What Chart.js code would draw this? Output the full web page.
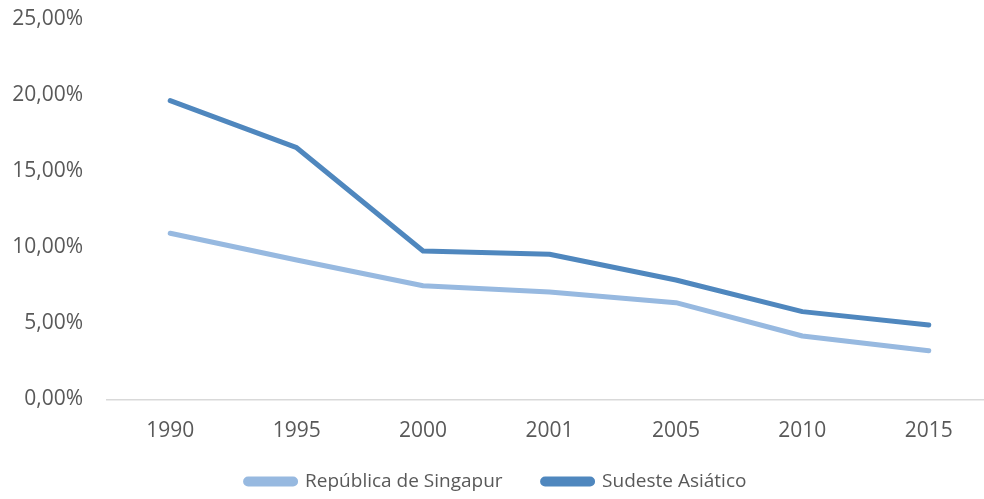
<!DOCTYPE html>
<html>
<head>
<meta charset="utf-8">
<script src="https://cdn.jsdelivr.net/npm/chart.js@4.4.1/dist/chart.umd.min.js"></script>
<style>
  html, body { margin: 0; padding: 0; background: #fff; overflow: hidden; }
  #wrap { width: 984px; height: 499px; overflow: hidden; }
  #box { width: 992px; height: 499px; position: relative; }
</style>
</head>
<body>
<div id="wrap"><div id="box"><canvas id="chart"></canvas></div></div>
<script>
// valores (% da população)
const anos = ['1990', '1995', '2000', '2001', '2005', '2010', '2015'];
const singapur = [10.91, 9.15, 7.46, 7.05, 6.35, 4.16, 3.19];
const sudeste = [19.62, 16.53, 9.74, 9.53, 7.84, 5.76, 4.88];
const serieNomes = ['República de Singapur', 'Sudeste Asiático'];
const yTicks = [0, 5, 10, 15, 20, 25];

const FONT = '"Open Sans", sans-serif';
const TXT = '#595959';

function fmtPct(v) {
  return v.toFixed(2).replace('.', ',') + '%';
}

// a área dos rótulos do eixo x fica sob a legenda; abre espaço para não cortar
const xLabelRoom = {
  id: 'xLabelRoom',
  afterLayout(chart) {
    chart.scales.x.bottom = chart.height;
  },
};

new Chart(document.getElementById('chart').getContext('2d'), {
  type: 'line',
  data: {
    labels: anos,
    datasets: [
      { label: serieNomes[0], data: singapur, borderColor: '#97b9e0', backgroundColor: '#97b9e0' },
      { label: serieNomes[1], data: sudeste, borderColor: '#4f87be', backgroundColor: '#4f87be' },
    ],
  },
  plugins: [xLabelRoom],
  options: {
    responsive: true,
    maintainAspectRatio: false,
    animation: false,
    layout: { padding: { top: 18.8, right: 0, bottom: 0, left: 0 } },
    elements: {
      line: { borderWidth: 5, tension: 0, borderCapStyle: 'round', borderJoinStyle: 'round' },
      point: { radius: 0, hoverRadius: 0 },
    },
    plugins: {
      tooltip: { enabled: false },
      legend: {
        position: 'bottom',
        maxHeight: 67,
        labels: {
          color: TXT,
          font: { family: FONT, size: 19 },
          boxWidth: 50,
          boxHeight: 5,
          useBorderRadius: true,
          borderRadius: 2.5,
          padding: 40,
        },
      },
    },
    scales: {
      x: {
        offset: true,
        afterFit: (axis) => { axis.height = 32.7; axis.paddingLeft = 0; axis.paddingRight = 0; },
        grid: { display: false, drawTicks: false, offset: true },
        border: { display: true, color: '#d9d9d9', width: 1.5 },
        ticks: { color: TXT, font: { family: FONT, size: 21 }, padding: 19, maxRotation: 0 },
      },
      y: {
        min: 0,
        max: 25,
        afterBuildTicks: (axis) => { axis.ticks = yTicks.map((v) => ({ value: v })); },
        afterFit: (axis) => { axis.width = 107; axis.paddingTop = 0; axis.paddingBottom = 0; },
        grid: { display: false, drawTicks: false },
        border: { display: false },
        ticks: {
          color: TXT,
          font: { family: FONT, size: 21 },
          padding: 24,
          callback: (v) => fmtPct(v),
        },
      },
    },
  },
});
</script>
</body>
</html>
